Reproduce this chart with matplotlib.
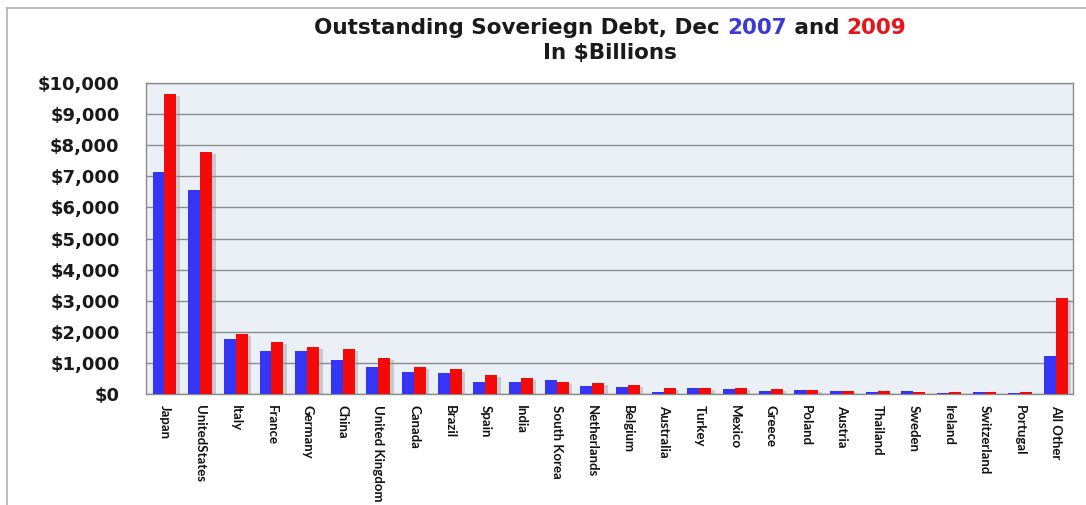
import numpy as np
import matplotlib
matplotlib.use("Agg")
import matplotlib.pyplot as plt
import matplotlib.patheffects as pe
from matplotlib.ticker import FuncFormatter
from matplotlib.lines import Line2D

# Outstanding sovereign debt by country, $ billions
countries = ['Japan', 'UnitedStates', 'Italy', 'France', 'Germany', 'China',
             'United Kingdom', 'Canada', 'Brazil', 'Spain', 'India', 'South Korea',
             'Netherlands', 'Belgium', 'Australia', 'Turkey', 'Mexico', 'Greece',
             'Poland', 'Austria', 'Thailand', 'Sweden', 'Ireland', 'Switzerland',
             'Portugal', 'All Other']
debt_2007 = [7130, 6570, 1760, 1380, 1380, 1100, 880, 710, 690, 400, 400, 440,
             270, 240, 60, 180, 160, 110, 130, 90, 75, 110, 20, 80, 40, 1220]
debt_2009 = [9650, 7790, 1940, 1660, 1520, 1450, 1160, 880, 790, 600, 510, 390,
             350, 280, 190, 180, 190, 160, 130, 110, 110, 80, 75, 80, 75, 3090]

blue = '#3535f5'
red = '#f50a0a'
label_font = ['Liberation Sans Narrow', 'Lato', 'DejaVu Sans']

fig = plt.figure(figsize=(10.86, 5.05), dpi=100)
ax = fig.add_axes([0.1344, 0.2198, 0.8536, 0.6158])
ax.set_facecolor('#ebf0f7')

x = np.arange(len(countries))
w = 0.335
shadow = [pe.SimplePatchShadow(offset=(2.5, -1.5), shadow_rgbFace='#909090', alpha=0.4), pe.Normal()]
b1 = ax.bar(x - w / 2, debt_2007, width=w, color=blue, zorder=3)
b2 = ax.bar(x + w / 2, debt_2009, width=w, color=red, zorder=3)
for bar in list(b1) + list(b2):
    bar.set_path_effects(shadow)

ax.set_xlim(-0.52, 25.48)
ax.set_ylim(0, 10000)
ax.set_yticks(np.arange(0, 10001, 1000))
ax.yaxis.set_major_formatter(FuncFormatter(lambda v, p: f'${v:,.0f}'))
ax.grid(axis='y', color='#8c8c8c', lw=1.0, zorder=1)
ax.tick_params(axis='y', length=0, pad=19, labelsize=13)
for lbl in ax.get_yticklabels():
    lbl.set_fontweight('bold')
    lbl.set_color('#1a1a1a')
    lbl.set_family('DejaVu Sans')

ax.set_xticks(x)
ax.set_xticklabels(countries, rotation=-90, fontsize=9.5, fontweight='bold',
                   family=label_font, color='#111111', va='top', ha='center')
ax.tick_params(axis='x', length=0, pad=8)

for s in ax.spines.values():
    s.set_color('#8c8c8c')
    s.set_linewidth(1.0)

# two-colour title, line one built from pieces
title_font = dict(fontsize=15.5, fontweight='bold', family=['DejaVu Sans'])
pieces = [('Outstanding Soveriegn Debt, Dec ', '#1a1a1a'), ('2007', '#3a3ad8'),
          (' and ', '#1a1a1a'), ('2009', '#e8141a')]
renderer = fig.canvas.get_renderer()
texts = []
xpos = 0
for s, c in pieces:
    t = fig.text(xpos, 1 - 28 / 505, s, color=c, va='center', ha='left', **title_font)
    bb = t.get_window_extent(renderer)
    xpos += bb.width / fig.bbox.width
    texts.append(t)
shift = 610 / 1086 - xpos / 2
for t in texts:
    t.set_x(t.get_position()[0] + shift)
fig.text(610 / 1086, 1 - 53 / 505, 'In $Billions', color='#1a1a1a', ha='center',
         va='center', **title_font)

# light frame at left and top
fig.add_artist(Line2D([7 / 1086, 7 / 1086], [0, 1 - 8 / 505], color='#b0b0b0', lw=1.2))
fig.add_artist(Line2D([7 / 1086, 1], [1 - 8 / 505, 1 - 8 / 505], color='#b0b0b0', lw=1.2))

fig.savefig('out.png', dpi=100)
